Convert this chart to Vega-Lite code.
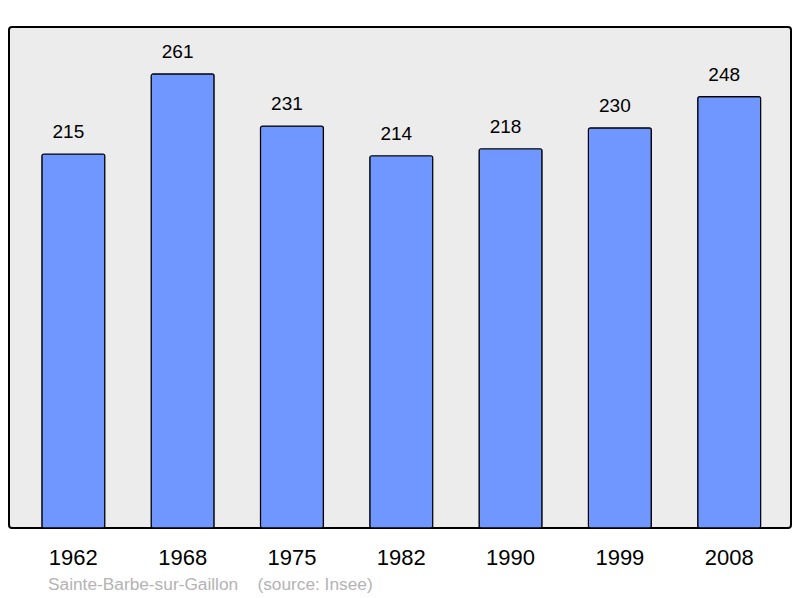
{
  "$schema": "https://vega.github.io/schema/vega-lite/v6.json",
  "width": 782,
  "height": 501,
  "autosize": {"type": "none"},
  "padding": {"left": 9, "top": 27, "right": 9, "bottom": 70},
  "background": "white",
  "config": {
    "view": {"stroke": "black", "strokeWidth": 2, "fill": "#ececec", "cornerRadius": 3},
    "font": "Liberation Sans"
  },
  "title": {
    "text": "Sainte-Barbe-sur-Gaillon\u00a0\u00a0\u00a0 (source: Insee)",
    "orient": "bottom",
    "anchor": "start",
    "dx": 39,
    "offset": 8,
    "fontSize": 17.3,
    "fontWeight": "normal",
    "color": "#b3b3b3",
    "font": "Liberation Sans"
  },
  "data": {
    "values": [
      {"year": "1962", "pop": 215},
      {"year": "1968", "pop": 261},
      {"year": "1975", "pop": 231},
      {"year": "1982", "pop": 214},
      {"year": "1990", "pop": 218},
      {"year": "1999", "pop": 230},
      {"year": "2008", "pop": 248}
    ]
  },
  "encoding": {
    "x": {
      "field": "year",
      "type": "ordinal",
      "sort": null,
      "scale": {"paddingInner": 0.424, "paddingOuter": 0.289, "align": 0.52},
      "axis": {
        "title": null,
        "domain": false,
        "ticks": false,
        "tickSize": 0,
        "labelPadding": 19,
        "labelAngle": 0,
        "labelFontSize": 22,
        "labelColor": "black",
        "labelFont": "Liberation Sans"
      }
    },
    "y": {
      "field": "pop",
      "type": "quantitative",
      "scale": {"domain": [0, 288], "nice": false, "zero": true},
      "axis": null
    }
  },
  "layer": [
    {
      "mark": {"type": "bar", "fill": "#7096ff", "stroke": "black", "strokeWidth": 1.2, "cornerRadius": 2}
    },
    {
      "mark": {"type": "text", "baseline": "alphabetic", "dx": -5, "dy": -16, "fontSize": 19, "color": "black", "font": "Liberation Sans"},
      "encoding": {"text": {"field": "pop", "type": "quantitative"}}
    }
  ]
}
